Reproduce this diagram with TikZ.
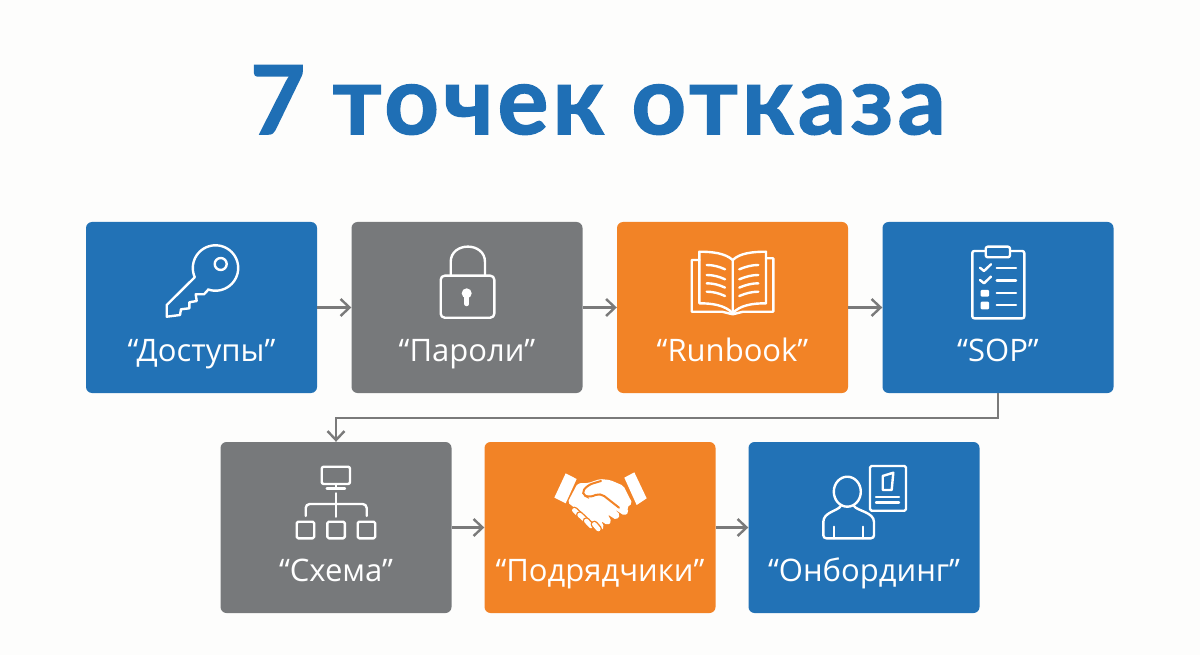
\documentclass[tikz,border=0pt]{standalone}
\usepackage{fontspec}
\setmainfont{Open Sans}
\newfontfamily\titlefont[LetterSpace=4.5, BoldFeatures={FakeBold=1.6}]{Lato}
\usetikzlibrary{arrows.meta}
\definecolor{boxblue}{HTML}{2272B6}
\definecolor{boxgray}{HTML}{77797B}
\definecolor{boxorange}{HTML}{F28326}
\definecolor{linkgray}{HTML}{7A7A7A}
\definecolor{titleblue}{HTML}{1F6FB5}
\definecolor{paper}{HTML}{FDFDFC}
\tikzstyle{card}=[rounded corners=6pt, minimum width=231pt, minimum height=171pt, inner sep=0pt]
\tikzstyle{caption}=[text=white, font=\fontsize{31}{36}\selectfont, inner sep=0pt, anchor=base]
\tikzstyle{link}=[draw=linkgray, line width=2.4pt, -{Straight Barb[length=9pt,width=17pt,line width=2.4pt]}]
\tikzstyle{icon}=[draw=white, line width=2.4pt, line join=round, line cap=round]
\begin{document}
\begin{tikzpicture}[x=1pt, y=-1pt]
        \useasboundingbox (0,0) rectangle (1200,655);
        \fill[paper] (0,0) rectangle (1200,655);
        \node[text=titleblue, font=\titlefont\fontsize{95}{110}\bfseries\selectfont, inner sep=0pt, anchor=base] (title) at (598,134) {7 точек отказа};
        % top row
        \node[card, fill=boxblue] (dostup) at (201.5,307.5) {};
        \node[card, fill=boxgray] (paroli) at (467,307.5) {};
        \node[card, fill=boxorange] (runbook) at (732.5,307.5) {};
        \node[card, fill=boxblue] (sop) at (998,307.5) {};
        % bottom row
        \node[card, fill=boxgray] (shema) at (336,527.5) {};
        \node[card, fill=boxorange] (podr) at (600,527.5) {};
        \node[card, fill=boxblue] (onb) at (864,527.5) {};
        \node[caption] (dostuplabel) at (201.5,361) {“Доступы”};
        \node[caption] (parolilabel) at (467,361) {“Пароли”};
        \node[caption] (runbooklabel) at (732.5,361) {“Runbook”};
        \node[caption] (soplabel) at (998,361) {“SOP”};
        \node[caption] (shemalabel) at (336,581) {“Схема”};
        \node[caption] (podrlabel) at (600,581) {“Подрядчики”};
        \node[caption] (onblabel) at (864,581) {“Онбординг”};
        \draw[link] (dostup.east) -- (paroli.west);
        \draw[link] (paroli.east) -- (runbook.west);
        \draw[link] (runbook.east) -- (sop.west);
        \draw[link] (sop.south) -- ++(0,24.5) -| (shema.north);
        \draw[link] (shema.east) -- (podr.west);
        \draw[link] (podr.east) -- (onb.west);
        % key
        \draw[icon] (208,290) -- plot[domain=109:-204, samples=50] ({215.5+22.7*cos(\x)}, {268+22.7*sin(\x)}) -- (166.7,305) -- (166.7,316.7) -- (180,315) -- (181,309.3) -- (189.3,308.3) -- (189.3,302.3) -- (196.7,301) -- (195.7,294.3) -- (204,294.3) -- cycle;
        \draw[icon] (220.7,264) circle (6);
        % lock
        \draw[icon, rounded corners=4pt] (440.7,275.7) rectangle (494.3,317.7);
        \draw[icon] (450.7,275.7) -- (450.7,262) .. controls (450.7,241.5) and (485,241.5) .. (485,262) -- (485,275.7);
        \fill[white] (466.7,293.3) circle (5);
        \draw[icon, line width=4.5pt] (466.7,295) -- (466.7,304);
        % book
        \draw[icon] (699.3,260) -- (691.7,260) -- (691.7,311.7) -- (722,311.7) -- (732.7,314.3) -- (743,311.7) -- (773.3,311.7) -- (773.3,258.3) -- (766,258.3);
        \draw[icon] (732.7,260) .. controls (725,253) and (712,251.7) .. (699.3,251.7) -- (699.3,303.3) .. controls (712,303.3) and (725,305) .. (732.7,313.3);
        \draw[icon] (732.7,260) .. controls (740,253) and (753,251.7) .. (766,251.7) -- (766,303.3) .. controls (753,303.3) and (740,305) .. (732.7,313.3) -- cycle;
        \foreach \y in {265,275,283.3,291.7} {
            \draw[icon] (706.7,\y) .. controls (713,\y) and (719,\y+1.5) .. (725,\y+4.3);
            \draw[icon] (758.3,\y) .. controls (752,\y) and (746,\y+1.5) .. (739.3,\y+4.3);
        }
        % clipboard
        \draw[icon, rounded corners=2pt] (972.3,251) rectangle (1024.3,318.3);
        \draw[icon, fill=boxblue, rounded corners=2pt] (985.7,246.7) rectangle (1010,257.3);
        \foreach \y in {0,12.3} {
            \draw[icon] (980,267.7+\y) -- (984,271+\y) -- (991,264.3+\y);
        }
        \fill[white, rounded corners=1pt] (980.7,290) rectangle (989,296.7);
        \fill[white, rounded corners=1pt] (980.7,301.7) rectangle (989,309.3);
        \foreach \y in {268.3,280.7,293.3,305} {
            \draw[icon] (996.7,\y) -- (1016,\y);
        }
        % network
        \draw[icon, rounded corners=2pt] (321.7,466.7) rectangle (350,484);
        \draw[icon] (336,484) -- (336,488.3);
        \draw[icon] (326.7,488.3) -- (345,488.3);
        \draw[icon] (336,493.3) -- (336,516.7);
        \draw[icon, rounded corners=4pt] (305.7,516) -- (305.7,504) -- (366.7,504) -- (366.7,516);
        \foreach \x in {296.7,327.3,357.7} {
            \draw[icon, rounded corners=1.5pt] (\x,521.7) rectangle (\x+17.5,538.3);
        }
        % handshake
        \begin{scope}[shift={(545,465)}, x=0.3333pt, y=-0.3333pt]
            \fill[white] (62,25) -- (95,42) -- (62,115) -- (28,98) -- cycle;
            \fill[white] (238,38) -- (268,22) -- (305,100) -- (275,120) -- cycle;
            \fill[white, rounded corners=2pt] (98,55) -- (130,54) -- (165,42) -- (195,45) -- (235,62) -- (262,115) -- (245,128) -- (252,142) -- (238,152) -- (208,132) -- (226,150) -- (214,165) -- (188,148) -- (200,170) -- (188,181) -- (168,168) -- (178,186) -- (168,197) -- (140,170) -- (68,112) -- cycle;
            \draw[boxorange, line width=2pt, line cap=round, rounded corners=5pt] (168,48) -- (128,60) -- (108,86) -- (132,98) -- (166,84) -- (222,128);
            \foreach \a/\b/\c/\d in {88/136/102/149, 104/150/120/165, 124/168/138/183, 148/178/160/192} {
                \draw[boxorange, line width=7.4pt, line cap=round] (\a,\b) -- (\c,\d);
                \draw[white, line width=4.6pt, line cap=round] (\a,\b) -- (\c,\d);
            }
        \end{scope}
        % onboarding
        \draw[icon] (847.3,491.7) ellipse (13.5 and 15);
        \draw[icon, rounded corners=3pt] (840.7,506) .. controls (838,511) and (823.3,512) .. (823.3,525) -- (823.3,538.3) -- (874,538.3) -- (874,525) .. controls (874,512) and (857,511) .. (854,506);
        \draw[icon] (834,526.7) -- (834,538.3);
        \draw[icon] (862.7,526.7) -- (862.7,538.3);
        \draw[icon, rounded corners=1.5pt] (870,466) rectangle (906,510.7);
        \draw[icon] (882.7,476) -- (893.3,472.7) -- (891.7,490) -- (882.7,490) -- cycle;
        \draw[icon] (876,496.7) -- (899,496.7);
        \draw[icon] (876,502.3) -- (899,502.3);
    \end{tikzpicture}
\end{document}
